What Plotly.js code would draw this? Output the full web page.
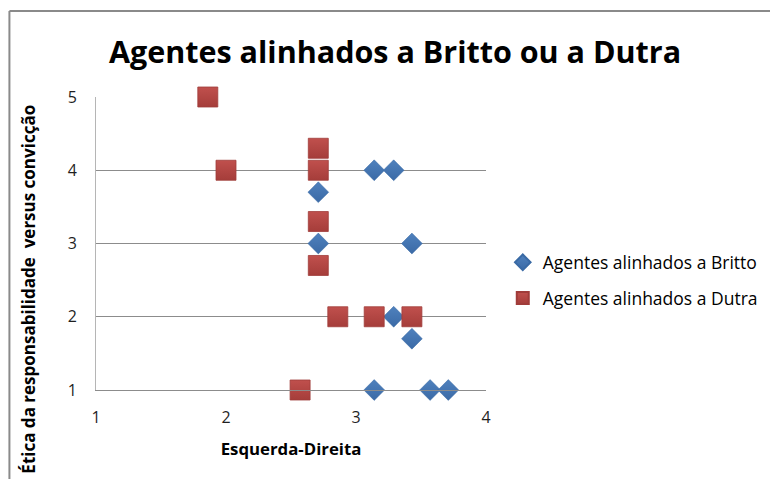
<!DOCTYPE html>
<html>
<head>
<meta charset="utf-8">
<script src="https://cdn.plot.ly/plotly-3.0.1.min.js"></script>
<style>html,body{margin:0;padding:0;background:#fff;}#chart{width:770px;height:479px;}</style>
</head>
<body>
<div id="chart"></div>
<script>
const chartTitle = "Agentes alinhados a Britto ou a Dutra";
const xTitle = "Esquerda-Direita";
const yTitle = "Ética da responsabilidade \u00a0versus convicção";
const seriesNames = ["Agentes alinhados a Britto", "Agentes alinhados a Dutra"];
const brittoX = [3.14, 3.29, 2.71, 2.71, 3.43, 3.29, 3.43, 3.14, 3.57, 3.71];
const brittoY = [4, 4, 3.7, 3, 3, 2, 1.7, 1, 1, 1];
const dutraX = [1.86, 2.0, 2.71, 2.71, 2.71, 2.71, 2.86, 3.14, 3.43, 2.57];
const dutraY = [5, 4, 4.3, 4, 3.3, 2.7, 2, 2, 2, 1];
const xTicks = [1, 2, 3, 4];
const yTicks = [1, 2, 3, 4, 5];

const FONT = "Open Sans, Noto Sans, sans-serif";

const traces = [
  {
    type: "scatter", mode: "markers", name: seriesNames[0],
    x: brittoX, y: brittoY, cliponaxis: false, legendgroup: "a",
    marker: {symbol: "diamond", size: 16, color: "#4f81bd",
      line: {color: "#3a6aa5", width: 0.5},
      gradient: {type: "vertical", color: "#3b6aa6"}}
  },
  {
    type: "scatter", mode: "markers", name: seriesNames[1],
    x: dutraX, y: dutraY, cliponaxis: false, legendgroup: "b",
    marker: {symbol: "square", size: 20, color: "#c0504d",
      line: {color: "#a03c3a", width: 0.8},
      gradient: {type: "vertical", color: "#a53d3a"}}
  }
];

const layout = {
  width: 770, height: 479,
  margin: {l: 96, r: 284, t: 97, b: 89, autoexpand: false},
  paper_bgcolor: "#fff", plot_bgcolor: "#fff",
  showlegend: true,
  font: {family: FONT, color: "#262626"},
  title: {text: "<b>" + chartTitle + "</b>", font: {family: FONT, size: 30.5, color: "#000"},
    x: 0.513, xanchor: "center", y: 0.89, yanchor: "middle", xref: "container", yref: "container"},
  xaxis: {
    range: [1, 4], tickvals: xTicks, ticks: "", showgrid: false, zeroline: false,
    showline: true, linecolor: "#8c8c8c", linewidth: 1, automargin: false,
    tickfont: {family: FONT, size: 16, color: "#1f1f1f"}, ticklabelstandoff: 13,
    title: {text: "<b>" + xTitle + "</b>", font: {family: FONT, size: 16.8, color: "#000"}, standoff: 16},
    fixedrange: true
  },
  yaxis: {
    range: [1, 5], tickvals: yTicks, ticks: "", showgrid: true, gridcolor: "#8c8c8c", gridwidth: 1,
    zeroline: false, showline: true, linecolor: "#b5b5b5", linewidth: 1, automargin: false,
    tickfont: {family: FONT, size: 16, color: "#1f1f1f"}, ticklabelstandoff: 15,
    fixedrange: true
  },
  legend: {
    x: 1.043, xanchor: "left", y: 0.374, yanchor: "middle",
    font: {family: FONT, size: 17.5, color: "#000"},
    itemsizing: "constant", traceorder: "grouped", tracegroupgap: 10,
    bgcolor: "rgba(0,0,0,0)", xref: "paper", yref: "paper"
  },
  annotations: [
    {text: "<b>" + yTitle + "</b>", textangle: -90, xref: "paper", yref: "paper",
      x: -0.174, y: 0.343, xanchor: "center", yanchor: "middle", showarrow: false,
      font: {family: FONT, size: 17, color: "#000"}}
  ],
  shapes: [
    {type: "line", xref: "paper", yref: "paper", x0: -0.222, x1: -0.222, y0: -0.4, y1: 1.2935,
      line: {color: "#8a8a8a", width: 2}},
    {type: "line", xref: "paper", yref: "paper", x0: -0.222, x1: 1.8, y0: 1.2935, y1: 1.2935,
      line: {color: "#8a8a8a", width: 2}}
  ]
};

Plotly.newPlot("chart", traces, layout, {staticPlot: true, displayModeBar: false});
</script>
</body>
</html>
